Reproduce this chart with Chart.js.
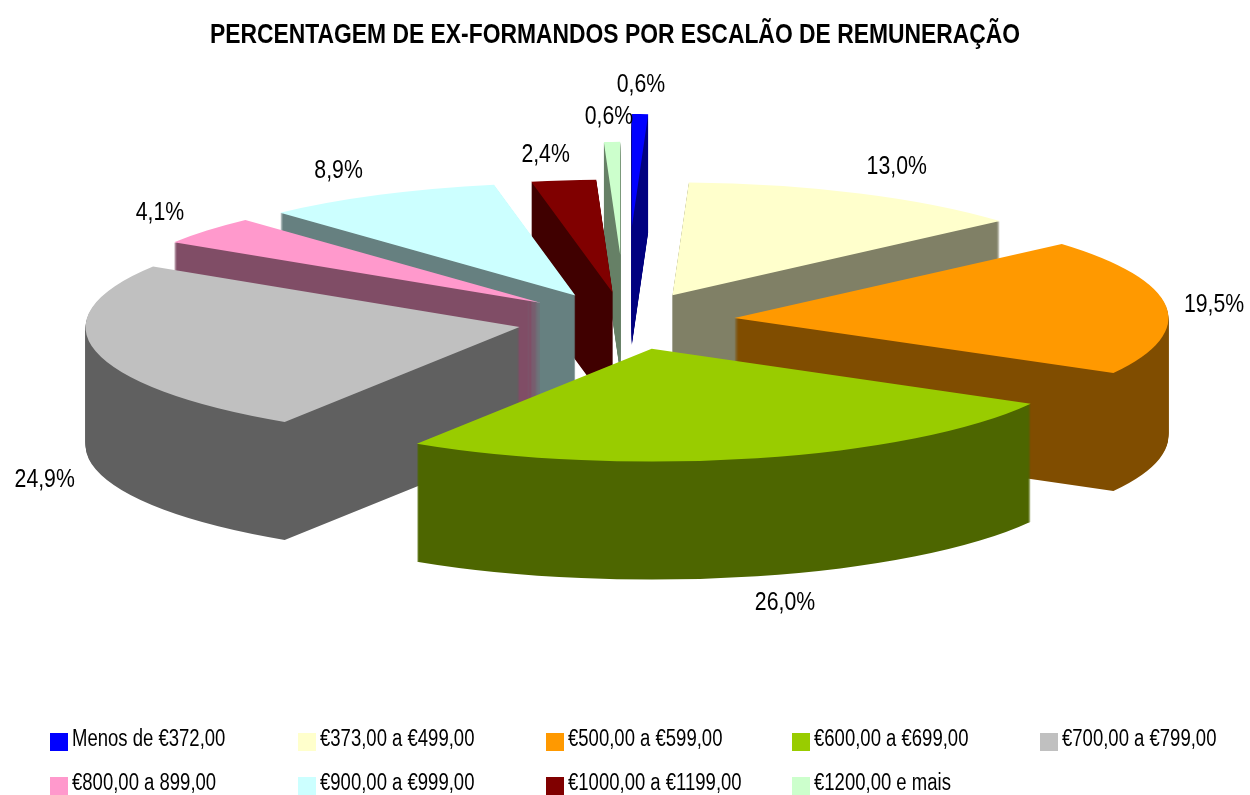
<!DOCTYPE html>
<html lang="pt">
<head>
<meta charset="utf-8">
<style>html,body{margin:0;padding:0;background:#fff}canvas{display:block}</style>
<script src="https://cdn.jsdelivr.net/npm/chart.js@4"></script>
</head>
<body>
<div style="width:1250px;height:795px;position:relative"><canvas id="c" width="1250" height="795"></canvas></div>
<script>
const chartTitle = 'PERCENTAGEM DE EX-FORMANDOS POR ESCALÃO DE REMUNERAÇÃO';
const categories = ['Menos de €372,00','€373,00 a €499,00','€500,00 a €599,00','€600,00 a €699,00','€700,00 a €799,00','€800,00 a 899,00','€900,00 a €999,00','€1000,00 a €1199,00','€1200,00 e mais'];
const values = [0.6,13.0,19.5,26.0,24.9,4.1,8.9,2.4,0.6];
const topColors = ['#0000FF','#FFFFCC','#FF9900','#99CC00','#C0C0C0','#FF99CC','#CCFFFF','#800000','#CCFFCC'];
const wallColors = ['#000080','#808066','#804D00','#4D6600','#606060','#804D66','#668080','#400000','#668066'];
const explode = [362,110,110,110,108,110,110,110,255];
const drawOrder = [0,8,7,6,5,1,2,4,3];
const labelNudge = [[1,-29],[37,-26],[48,-1],[28,145],[-51,129],[-47,-17],[-41,-24],[-18,-25],[-3,-25]];

const FONT = '"Liberation Sans",Arial,sans-serif';
const CX = 625, CY = 321, RADIUS = 434, SQUASH = 0.26, DEPTH = 118;

function polar(arc, i){
  const a = (arc.startAngle + arc.endAngle) / 2;
  return {c: Math.cos(a), s: Math.sin(a), d: explode[i]};
}
function narrowText(ctx, text, x, y, sx){
  ctx.save();
  ctx.translate(x, y);
  ctx.scale(sx, 1);
  ctx.fillText(text, 0, 0);
  ctx.restore();
}

const pie3d = {
  id: 'pie3d',
  afterInit(chart) {
    const block = chart.titleBlock, base = block.draw;
    block.draw = function () {
      const ctx = chart.ctx, mid = 615;
      ctx.save();
      ctx.translate(mid, 0);
      ctx.scale(0.847, 1);
      ctx.translate(-mid, 0);
      base.apply(block, arguments);
      ctx.restore();
    };
  },
  beforeDatasetDraw(chart, args) {
    const ctx = chart.ctx, arcs = args.meta.data;
    const sheet = document.createElement('canvas');
    sheet.width = chart.width;
    sheet.height = chart.height;
    const sctx = sheet.getContext('2d');
    drawOrder.forEach(i => {
      const arc = arcs[i], p = polar(arc, i);
      const place = (target, drop) => {
        target.save();
        target.translate(CX, CY + drop);
        target.scale(1, SQUASH);
        target.translate(p.c * p.d - arc.x, p.s * p.d - arc.y);
        arc.draw(target);
        target.restore();
      };
      // sweep the slice downward to build its wall, then flood it with one flat colour
      sctx.globalCompositeOperation = 'source-over';
      sctx.clearRect(0, 0, sheet.width, sheet.height);
      for (let drop = DEPTH; drop > 0; drop--) place(sctx, drop);
      sctx.globalCompositeOperation = 'source-in';
      sctx.fillStyle = wallColors[i];
      sctx.fillRect(0, 0, sheet.width, sheet.height);
      ctx.drawImage(sheet, 0, 0);
      place(ctx, 0);
    });
    return false;
  },
  afterDraw(chart) {
    const ctx = chart.ctx, arcs = chart.getDatasetMeta(0).data;
    ctx.save();
    ctx.fillStyle = '#000';
    ctx.font = '25px ' + FONT;
    ctx.textAlign = 'center';
    ctx.textBaseline = 'middle';
    arcs.forEach((arc, i) => {
      const p = polar(arc, i), r = RADIUS + p.d;
      const x = CX + p.c * r + labelNudge[i][0];
      const y = CY + p.s * r * SQUASH + labelNudge[i][1];
      narrowText(ctx, values[i].toFixed(1).replace('.', ',') + '%', x, y, 0.85);
    });
    ctx.font = '23px ' + FONT;
    ctx.textAlign = 'left';
    const colX = [50,298,546,792,1040], rowY = [742,786];
    categories.forEach((name, i) => {
      const x = colX[i % 5], y = rowY[Math.floor(i / 5)];
      ctx.fillStyle = topColors[i];
      ctx.fillRect(x, y - 9, 18, 18);
      ctx.fillStyle = '#000';
      narrowText(ctx, name, x + 22, y - 2, 0.805);
    });
    ctx.restore();
  }
};

new Chart(document.getElementById('c'), {
  type: 'pie',
  data: {
    labels: categories,
    datasets: [{ data: values, backgroundColor: topColors, borderWidth: 0, radius: RADIUS }]
  },
  options: {
    responsive: false,
    animation: false,
    events: [],
    layout: { padding: { top: 19, right: 20, bottom: 0, left: 0 } },
    plugins: {
      legend: { display: false },
      tooltip: { enabled: false },
      title: { display: true, text: chartTitle, color: '#000',
               font: { family: FONT, size: 27, weight: 'bold' }, padding: { top: 0, bottom: 10 } }
    }
  },
  plugins: [pie3d]
});
</script>
</body>
</html>
